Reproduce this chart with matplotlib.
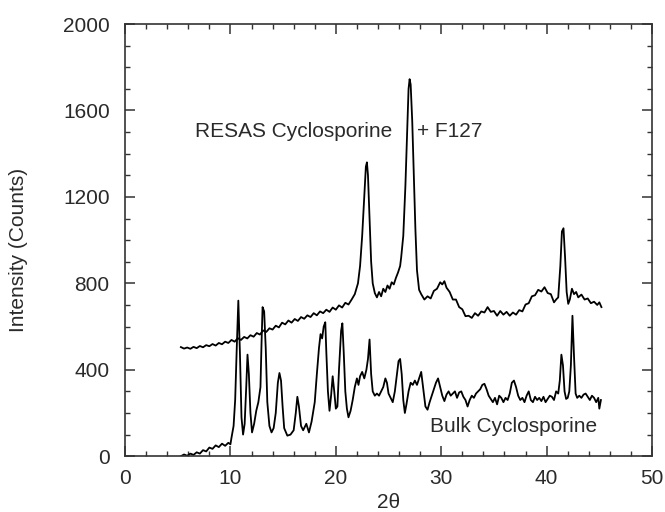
import numpy as np
import matplotlib
matplotlib.use("Agg")
from matplotlib import pyplot as plt
from matplotlib.ticker import MultipleLocator

# RESAS cyclosporine + F127 trace
resas_x = [5.3, 5.6, 5.9, 6.2, 6.5, 6.8, 7.1, 7.4, 7.7, 8.0, 8.3, 8.6, 8.9, 9.2, 9.5,
           9.8, 10.1, 10.4, 10.7, 11.0, 11.3, 11.6, 11.9, 12.2, 12.5, 12.8, 13.1, 13.4,
           13.7, 14.0, 14.3, 14.6, 14.9, 15.2, 15.5, 15.8, 16.1, 16.4, 16.7, 17.0,
           17.3, 17.6, 17.9, 18.2, 18.5, 18.8, 19.1, 19.4, 19.7, 20.0, 20.3, 20.6,
           20.9, 21.2, 21.5, 21.8, 22.1, 22.3, 22.5,
           22.7, 22.85, 22.95, 23.05, 23.2, 23.35, 23.5, 23.7, 23.9, 24.1, 24.3, 24.5,
           24.7, 24.9, 25.1, 25.3, 25.5, 25.7, 25.9, 26.1, 26.2, 26.4, 26.6, 26.75,
           26.9, 27.0, 27.1, 27.25, 27.4, 27.55, 27.7, 27.9, 28.1, 28.4, 28.7, 29.0,
           29.3, 29.6, 29.9, 30.1, 30.3, 30.5, 30.8, 31.1, 31.4, 31.7, 32.0, 32.3,
           32.6, 32.9, 33.2, 33.5, 33.8, 34.1, 34.4, 34.7, 35.0, 35.3, 35.6, 35.9,
           36.2, 36.5, 36.8, 37.1, 37.4, 37.7, 38.0, 38.3, 38.6, 38.9, 39.2, 39.5,
           39.8, 40.1, 40.4, 40.7, 40.9, 41.1, 41.3, 41.45, 41.6, 41.75, 41.9, 42.05,
           42.2, 42.4, 42.6, 42.8, 43.0, 43.3, 43.6, 43.9, 44.2, 44.5, 44.8, 45.0, 45.2]
resas_y = [505, 498, 503, 497, 506, 500, 510, 504, 514, 509, 519, 512, 524, 518, 530,
           524, 538, 530, 546, 538, 552, 545, 560, 553, 570, 563, 582, 575,
           592, 586, 604, 596, 618, 610, 628, 618, 635, 626, 644, 636,
           652, 644, 662, 652, 670, 662, 678, 668, 688, 678, 698, 688,
           710, 702, 725, 750, 800, 880, 1020,
           1200, 1340, 1360, 1300, 1100, 900, 800, 755, 735, 760, 740, 775,
           760, 790, 775, 805, 795, 825, 850, 880, 920, 1020, 1250, 1480,
           1700, 1745, 1720, 1550, 1300, 1050, 860, 770, 750, 725, 740, 730,
           765, 775, 805, 795, 810, 780, 760, 725, 725, 690, 680, 648,
           650, 640, 662, 650, 670, 665, 690, 668, 672, 650, 672, 655,
           668, 650, 665, 655, 676, 670, 702, 708, 740, 745, 770, 762,
           782, 755, 750, 712, 725, 735, 880, 1040, 1055, 920, 760, 705,
           725, 775, 750, 760, 735, 748, 725, 730, 708, 715, 700, 712, 690]

# bulk cyclosporine trace
bulk_x = [5.3, 5.6, 5.9, 6.2, 6.5, 6.8, 7.1, 7.4, 7.7, 8.0, 8.3, 8.6, 8.9, 9.2, 9.5,
          9.8, 10.0, 10.1, 10.3, 10.45,
          10.6, 10.75, 10.9, 11.05, 11.2, 11.35, 11.5, 11.62, 11.75, 11.9, 12.05,
          12.25, 12.45, 12.65, 12.85, 12.95, 13.05, 13.2, 13.35, 13.5, 13.7, 13.9,
          14.1, 14.3, 14.5, 14.65, 14.8, 14.95, 15.1, 15.4, 15.7, 16.0, 16.2, 16.35,
          16.5, 16.7, 16.9, 17.2, 17.45, 17.7, 18.0, 18.2, 18.4, 18.55, 18.7, 18.85,
          19.0, 19.1, 19.25, 19.4, 19.55, 19.7, 19.85, 20.0, 20.15, 20.3, 20.5,
          20.62, 20.75, 20.9, 21.05, 21.2, 21.4, 21.6, 21.8, 22.0, 22.15, 22.3, 22.5,
          22.7, 22.9, 23.05, 23.2, 23.35, 23.5, 23.7, 23.9, 24.1, 24.3, 24.5, 24.7,
          24.85, 25.0, 25.2, 25.4, 25.6, 25.8, 25.95, 26.1, 26.25, 26.4, 26.55, 26.7,
          26.9, 27.1, 27.3, 27.5, 27.7, 27.9, 28.1, 28.3, 28.5, 28.7, 28.9, 29.1,
          29.3, 29.5, 29.7, 29.9, 30.1, 30.3, 30.5, 30.7, 30.9, 31.1, 31.3, 31.5,
          31.7, 31.9, 32.1, 32.3, 32.5, 32.7, 32.9, 33.1, 33.3, 33.5, 33.7, 33.9,
          34.1, 34.3, 34.5, 34.7, 34.9, 35.1, 35.3, 35.5, 35.7, 35.9, 36.1, 36.3,
          36.5, 36.7, 36.9, 37.1, 37.3, 37.5, 37.7, 37.9, 38.1, 38.3, 38.5, 38.7,
          38.9, 39.1, 39.3, 39.5, 39.7, 39.9, 40.1, 40.3, 40.5, 40.7, 40.9, 41.1,
          41.25, 41.4, 41.55, 41.7, 41.85, 42.0, 42.15, 42.3, 42.45, 42.6, 42.75,
          42.9, 43.1, 43.3, 43.5, 43.7, 43.9, 44.1, 44.3, 44.5, 44.7, 44.9, 45.0, 45.15]
bulk_y = [0, 8, 2, 12, 6, 18, 12, 28, 22, 40, 34, 50, 42, 58, 48,
          62, 55, 85, 140, 260,
          500, 720, 480, 180, 100, 150, 320, 470, 380, 200, 110,
          150, 210, 250, 320, 520, 690, 670, 500, 250, 140, 110,
          130, 200, 340, 385, 350, 230, 130, 95, 100, 120, 200, 275,
          230, 140, 120, 150, 110, 160, 250, 380, 500, 565, 545, 600,
          620, 480, 300, 210, 280, 370, 300, 220, 230, 400, 580,
          615, 480, 300, 220, 180, 210, 260, 320, 360, 330, 370, 390,
          360, 400, 450, 540, 380, 300, 280, 290, 280, 300, 320, 360,
          340, 290, 270, 250, 300, 380, 440, 450, 380, 260, 200, 240,
          300, 340, 330, 350, 330, 360, 390, 310, 230, 215, 250, 280,
          310, 340, 360, 320, 280, 255, 285, 300, 280, 290, 300, 270,
          295, 300, 275, 260, 230, 260, 280, 270, 290, 300, 310, 330,
          335, 310, 280, 265, 250, 270, 240, 280, 270, 250, 270, 260,
          290, 340, 350, 320, 280, 260, 270, 250, 280, 300, 260, 250,
          275, 260, 270, 255, 275, 250, 265, 280, 275, 260, 300, 290,
          350, 470, 420, 300, 265, 270, 300, 420, 650, 460, 290,
          270, 280, 270, 285, 290, 275, 260, 280, 270, 250, 270, 220, 260]

plt.rcParams['font.family'] = ['Liberation Sans', 'DejaVu Sans']
txt = '#2a2a2a'

fig = plt.figure(figsize=(6.65, 5.12), dpi=100)
ax = fig.add_axes([0.188, 0.109, 0.7925, 0.844])

ax.plot(resas_x, resas_y, color='black', lw=1.3)
ax.plot(bulk_x, bulk_y, color='black', lw=1.3)

ax.set_xlim(0, 50)
ax.set_ylim(0, 2000)
ax.xaxis.set_major_locator(MultipleLocator(10))
ax.xaxis.set_minor_locator(MultipleLocator(2))
ax.yaxis.set_major_locator(MultipleLocator(400))
ax.yaxis.set_minor_locator(MultipleLocator(100))
ax.tick_params(which='both', direction='in', top=True, right=True,
               colors='#333333', labelcolor=txt, labelsize=15)
ax.tick_params(which='major', length=7, width=1.1)
ax.tick_params(which='minor', length=3.5, width=1.0)
ax.tick_params(axis='x', which='major', pad=9)
ax.tick_params(axis='y', which='major', pad=11)
for s in ax.spines.values():
    s.set_linewidth(1.2)
    s.set_color('#333333')

ax.set_xlabel('2θ', fontsize=15, color=txt, labelpad=4)
ax.set_ylabel('Intensity (Counts)', fontsize=15, color=txt)
ax.yaxis.set_label_coords(-0.184, 0.477)

ax.text(6.6, 1477, 'RESAS Cyclosporine', fontsize=15, color=txt, va='baseline')
ax.text(27.7, 1477, '+ F127', fontsize=15, color=txt, va='baseline')
ax.text(44.8, 111, 'Bulk Cyclosporine', fontsize=15, color=txt, ha='right', va='baseline')

fig.savefig('out.png', dpi=100)
